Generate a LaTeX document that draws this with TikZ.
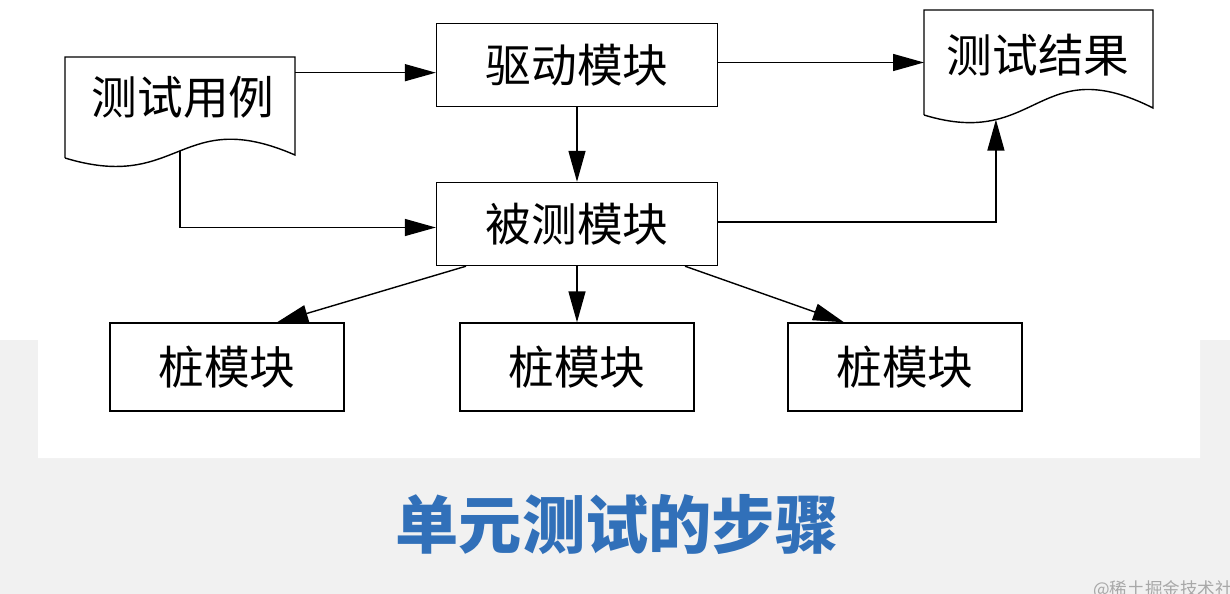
\documentclass[tikz,border=0pt]{standalone}
\usepackage{fontspec}
\newfontfamily\cjk{Noto Sans CJK SC}
\usetikzlibrary{arrows.meta,positioning}
\definecolor{TitleBlue}{HTML}{3170B9}
\definecolor{PanelGray}{HTML}{F1F1F1}
\definecolor{MarkGray}{HTML}{A8A8A8}
\tikzset{
  modbox/.style={draw, line width=0.8pt, minimum width=5.62cm, minimum height=1.66cm, font=\cjk\fontsize{26}{30}\selectfont},
  stubbox/.style={modbox, minimum width=4.68cm, minimum height=1.76cm},
  doctext/.style={font=\cjk\fontsize{26}{30}\selectfont},
  arr/.style={line width=0.8pt, -{Triangle[length=0.62cm,width=0.34cm]}}
}

\begin{document}
\begin{tikzpicture}[x=0.02cm, y=-0.02cm]
  % Background panel
  \fill[PanelGray] (0,0) rectangle (1230,594);
  \fill[white] (0,0) -- (1230,0) -- (1230,340) -- (1200,340) -- (1200,458) -- (38,458) -- (38,340) -- (0,340) -- cycle;
  \useasboundingbox (0,0) rectangle (1230,594);

  % Test cases document
  \draw[line width=0.8pt] (65,158) -- (65,57) -- (295,57) -- (295,155) coordinate[pos=0.16] (casesR)
    .. controls (180,105) and (180,193) .. (65,158) coordinate[pos=0.5] (casesout);
  \node[doctext] (cases) at (183,97) {测试用例};

  % Test results document
  \draw[line width=0.8pt] (924,115) -- (924,10) coordinate[pos=0.5] (resL) -- (1153,10) -- (1153,108)
    .. controls (1038,50) and (1038,150) .. (924,115) coordinate[pos=0.73] (resin);
  \node[doctext] (result) at (1038,55) {测试结果};

  % Modules
  \node[modbox] (drv) at (577,65) {驱动模块};
  \node[modbox] (dut) at (577,224) {被测模块};
  \node[stubbox] (stubA) at (227,367) {桩模块};
  \node[stubbox] (stubB) at (577,367) {桩模块};
  \node[stubbox] (stubC) at (905,367) {桩模块};

  % Connectors
  \draw[arr] (casesR) -- (casesR -| drv.west);
  \draw[arr] (resL -| drv.east) -- (resL);
  \draw[arr] (drv) -- (dut);
  \draw[arr] (casesout) |- ([yshift=-0.07cm]dut.west);
  \draw[arr] ([yshift=0.04cm]dut.east) -| (resin);
  \draw[arr] ([xshift=-2.22cm]dut.south) -- ([xshift=1cm]stubA.north);
  \draw[arr] (dut) -- (stubB);
  \draw[arr] ([xshift=2.16cm]dut.south) -- ([xshift=-1.22cm]stubC.north);

  % Caption
  \node[font=\cjk\bfseries\fontsize{36}{40}\selectfont, text=TitleBlue] (title) at (617,525) {单元测试的步骤};
  \node[font=\cjk\fontsize{10}{12}\selectfont, text=MarkGray, anchor=west, inner sep=0pt] (mark) at (1093,590) {@稀土掘金技术社区};
\end{tikzpicture}
\end{document}
